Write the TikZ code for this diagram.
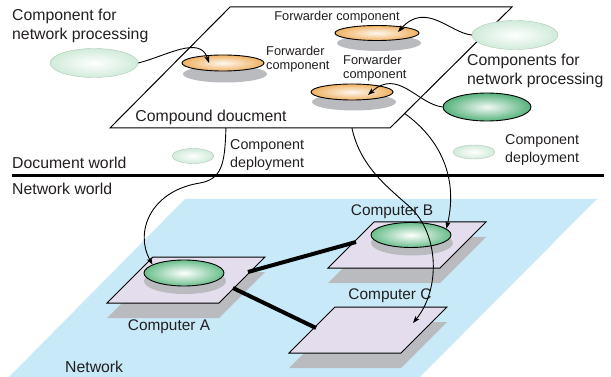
\documentclass[tikz,border=0pt]{standalone}
\usepackage{fontspec}
\setmainfont{Liberation Sans}
\usetikzlibrary{calc}
\usetikzlibrary{positioning}
\usetikzlibrary{shapes.geometric}
\usetikzlibrary{arrows.meta}
\definecolor{netblue}{RGB}{199,233,248}
\definecolor{platelilac}{RGB}{227,221,237}
\definecolor{shadowgray}{RGB}{186,187,191}
\definecolor{fwdorange}{RGB}{240,178,98}
\definecolor{palegreen}{RGB}{208,235,218}
\definecolor{darkgreen}{RGB}{86,178,124}
\definecolor{midgreen}{RGB}{104,190,138}
\definecolor{inkgray}{RGB}{35,31,32}
\tikzstyle{fwdnode} = [draw, ellipse, inner sep=0, line width=0.9pt, shade, inner color=white!90!fwdorange, outer color=fwdorange]
\tikzstyle{netnode} = [ellipse, inner sep=0, draw=palegreen!85!black, line width=0.4pt, shade, inner color=white, outer color=palegreen]
\tikzstyle{darknode} = [draw, ellipse, inner sep=0, line width=0.9pt, shade, inner color=white!92!darkgreen, outer color=darkgreen]
\tikzstyle{pcnode} = [draw, ellipse, inner sep=0, line width=0.9pt, shade, inner color=white, outer color=midgreen]
\tikzstyle{shadownode} = [ellipse, inner sep=0, fill=shadowgray]
\tikzstyle{plate} = [draw, line width=1pt, fill=platelilac, line join=miter]
\tikzstyle{docsheet} = [draw, line width=1pt, fill=white]
\tikzstyle{biglbl} = [inner sep=0, text=inkgray, font=\fontsize{15.8}{19}\selectfont]
\tikzstyle{pclbl} = [inner sep=0, text=inkgray, font=\fontsize{15.4}{18}\selectfont]
\tikzstyle{deplbl} = [inner sep=0, text=inkgray, align=left, font=\fontsize{14.3}{18}\selectfont]
\tikzstyle{fwdlbl} = [inner sep=0, text=inkgray, align=left, font=\fontsize{12.8}{14.5}\selectfont]
\tikzstyle{deploy} = [line width=0.9pt, -{Stealth[length=7pt, width=5pt, inset=1.5pt]}]
\tikzstyle{link} = [line width=4pt]

\begin{document}
\begin{tikzpicture}[x=1pt, y=-1pt]
    \useasboundingbox (0,0) rectangle (611,377);

    % network plane and compound document sheet
    \fill[netblue] (185,199) -- (597,199) -- (420,377) -- (9,377) -- cycle;
    \draw[docsheet] (230,7) coordinate (doc_nw) -- (512,7) coordinate (doc_ne)
        -- (390,128) coordinate (doc_se) -- (110,128) coordinate (doc_sw) -- cycle;
    \coordinate (doc_out_a) at ($(doc_sw)!0.414!(doc_se)$);
    \coordinate (doc_out_c) at ($(doc_sw)!0.864!(doc_se)$);
    \coordinate (doc_out_b) at ($(doc_ne)!0.88!(doc_se)$);
    \node[biglbl] (doc_title) at (211,117) {Compound doucment};

    % document world / network world
    \draw[line width=3pt] (12,176) -- (604,176);
    \node[biglbl, anchor=west] (doc_world) at (12,163) {Document world};
    \node[biglbl, anchor=west] (net_world) at (12,189) {Network world};
    \node[biglbl, anchor=west] (net_title) at (65,367) {Network};

    % forwarder components on the sheet
    \node[shadownode, minimum width=84, minimum height=16] (fwd_top_sh) at (379,43) {};
    \node[fwdnode, minimum width=84, minimum height=15] (fwd_top) at (377,33) {};
    \node[shadownode, minimum width=84, minimum height=17] (fwd_left_sh) at (225,74) {};
    \node[fwdnode, minimum width=82, minimum height=16] (fwd_left) at (223,63) {};
    \node[shadownode, minimum width=84, minimum height=17] (fwd_mid_sh) at (354,102) {};
    \node[fwdnode, minimum width=82, minimum height=16] (fwd_mid) at (352,92) {};
    \node[fwdlbl] (fwd_top_lbl) at ($(fwd_top)+(-40,-16)$) {Forwarder component};
    \node[fwdlbl, anchor=west] (fwd_left_lbl) at ($(fwd_left)+(43,-4)$) {Forwarder\\component};
    \node[fwdlbl, anchor=west] (fwd_mid_lbl) at ($(fwd_mid)+(-9,-24)$) {Forwarder\\component};

    % components for network processing
    \node[netnode, minimum width=88, minimum height=29] (np_left) at (94,63) {};
    \node[netnode, minimum width=86, minimum height=29] (np_right) at (515,35) {};
    \node[darknode, minimum width=88, minimum height=28] (np_dark) at (487,107) {};
    \node[biglbl, anchor=west, align=left] (np_left_lbl) at (12,26) {Component for\\network processing};
    \node[biglbl, anchor=west, align=left] (np_right_lbl) at (467,71) {Components for\\network processing};

    % component deployment
    \node[netnode, minimum width=42, minimum height=15] (dep_left) at (193,156) {};
    \node[netnode, minimum width=42, minimum height=14] (dep_right) at (474,152) {};
    \node[deplbl, anchor=west] (dep_left_lbl) at (230,155) {Component\\deployment};
    \node[deplbl, anchor=west] (dep_right_lbl) at (505,150) {Component\\deployment};

    % computers
    \coordinate (pc_a) at (186,280);
    \coordinate (pc_b) at (407,245);
    \coordinate (pc_c) at (368,330);
    \foreach \pc in {pc_a,pc_b,pc_c} {
        \fill[shadowgray] ($(\pc)+(0,15)$) ++(-33,-23) -- ++(112,0) -- ++(-46,46) -- ++(-112,0) -- cycle;
        \draw[plate] (\pc) ++(-33,-23) -- ++(112,0) -- ++(-46,46) -- ++(-112,0) -- cycle;
    }
    \node[shadownode, minimum width=82, minimum height=26] (pc_a_sh) at ($(pc_a)+(-1,1)$) {};
    \node[pcnode, minimum width=80, minimum height=26] (pc_a_comp) at ($(pc_a)+(-2,-7)$) {};
    \node[shadownode, minimum width=82, minimum height=25] (pc_b_sh) at ($(pc_b)+(5,-2)$) {};
    \node[pcnode, minimum width=80, minimum height=25] (pc_b_comp) at ($(pc_b)+(4,-10)$) {};
    \node[pclbl] (pc_a_lbl) at ($(pc_a)+(-17,47)$) {Computer A};
    \node[pclbl] (pc_b_lbl) at ($(pc_b)+(-15,-33)$) {Computer B};
    \node[pclbl] (pc_c_lbl) at ($(pc_c)+(22,-34)$) {Computer C};

    % network links
    \coordinate (link_ab_a) at ($(pc_a)+(62,-8)$);
    \coordinate (link_ab_b) at ($(pc_b)+(-51,-3)$);
    \coordinate (link_ac_a) at ($(pc_a)+(47,8)$);
    \coordinate (link_ac_c) at ($(pc_c)+(-52,-2)$);
    \draw[link] (link_ab_a) -- (link_ab_b);
    \draw[link] (link_ac_a) -- (link_ac_c);

    % composition arrows
    \draw[deploy] (np_left.east) .. controls +(28,-7) and +(-9,-28) .. ($(fwd_left.center)+(-14,0)$);
    \draw[deploy] (np_right.west) .. controls +(-22,-2) and +(28,-31) .. ($(fwd_top.center)+(21,-1)$);
    \draw[deploy] (np_dark.west) .. controls +(-25,-3) and +(30,-27) .. ($(fwd_mid.center)+(16,3)$);

    % deployment arrows
    \coordinate (dep_bend_a) at ($(doc_out_a)+(-26,55)$);
    \coordinate (dep_bend_c) at ($(doc_out_c)+(58,79)$);
    \coordinate (pc_c_in) at ($(pc_c)+(45,-7)$);
    \draw[deploy] (doc_out_a) .. controls +(-1,36) and +(22,-4) .. (dep_bend_a)
        .. controls +(-50,8) and +(-18,-32) .. (pc_a_comp.165);
    \draw[deploy] (doc_out_c) .. controls +(8,37) and +(-25,-22) .. (dep_bend_c)
        .. controls +(30,28) and +(27,-33) .. (pc_c_in);
    \draw[deploy] (doc_out_b) .. controls +(35,25) and +(12,-52) .. (pc_b_comp.10);
\end{tikzpicture}
\end{document}
